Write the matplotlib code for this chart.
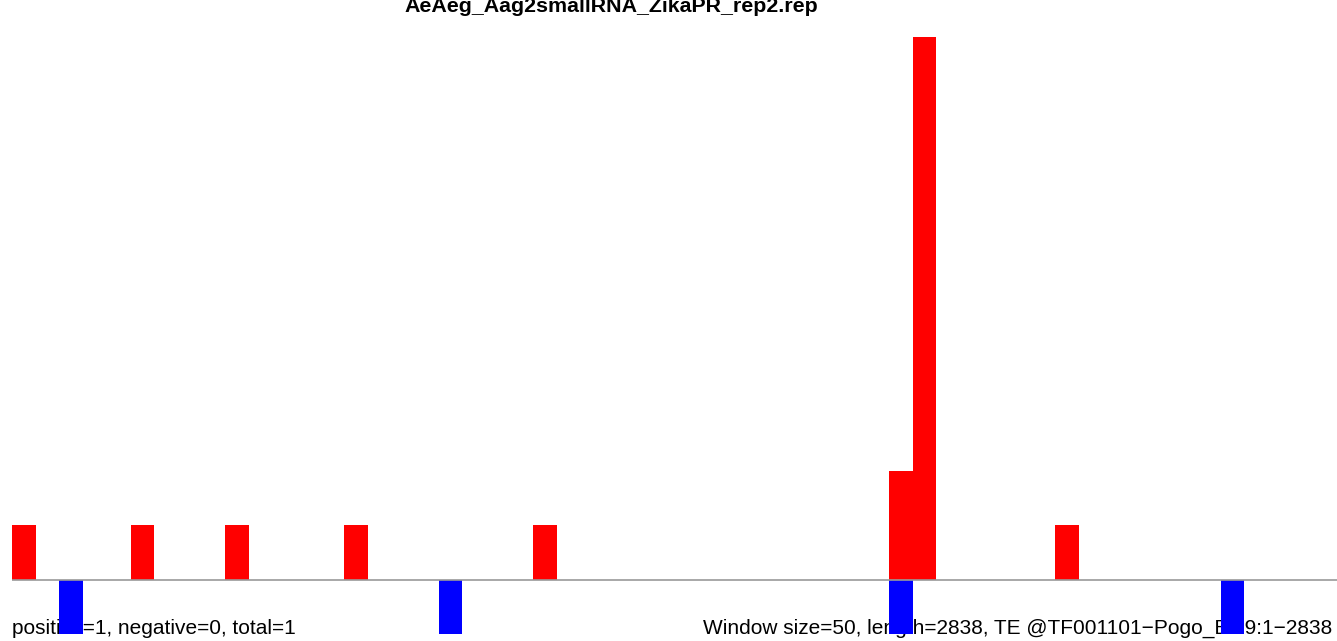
import numpy as np
import matplotlib
matplotlib.use("Agg")
import matplotlib.pyplot as plt

plt.rcParams['font.family'] = ['Liberation Sans', 'DejaVu Sans']

title = "AeAeg_Aag2smallRNA_ZikaPR_rep2.rep"
window_size = 50
length = 2838
n_windows = int(np.ceil(length / window_size))

# counts per window (index -> count)
pos_idx = [0, 5, 9, 14, 22, 37, 38, 44]
pos_val = [1, 1, 1, 1, 1, 2, 10, 1]
neg_idx = [2, 18, 37, 51]
neg_val = [-1, -1, -1, -1]

left_note = "positive=1, negative=0, total=1"
right_note = "Window size=50, length=2838, TE @TF001101\u2212Pogo_Ele9:1\u22122838"

pos = np.zeros(n_windows)
neg = np.zeros(n_windows)
pos[pos_idx] = pos_val
neg[neg_idx] = neg_val

W, H = 1337, 641
fig = plt.figure(figsize=(W / 100, H / 100), dpi=100)
ax = fig.add_axes([12 / W, 0, 1 - 12 / W, 1])

step = 23.7   # pixels per window
unit = 54.28  # pixels per count
base = 579.5  # baseline pixel row from top
ax.set_xlim(0, (W - 12) / step)
ax.set_ylim(-(H - base) / unit, base / unit)
ax.axis("off")

x = np.arange(n_windows)
ax.bar(x, pos, width=1, align="edge", color="red", linewidth=0, zorder=2)
ax.bar(x, neg, width=1, align="edge", color="blue", linewidth=0, zorder=2)
ax.axhline(0, color="#999999", linewidth=1.2, zorder=3)

# texts sit under the bars, as in the original
ax.text(611 / W, 1 - 12.5 / H, title, transform=fig.transFigure, ha="center",
        va="baseline", fontsize=15.4, fontweight="bold", zorder=1, clip_on=False)
ax.text(12 / W, 1 - 634 / H, left_note, transform=fig.transFigure, ha="left",
        va="baseline", fontsize=15, zorder=1, clip_on=False)
ax.text(703 / W, 1 - 634 / H, right_note, transform=fig.transFigure, ha="left",
        va="baseline", fontsize=15, zorder=1, clip_on=False)

fig.savefig("out.png", dpi=100)
